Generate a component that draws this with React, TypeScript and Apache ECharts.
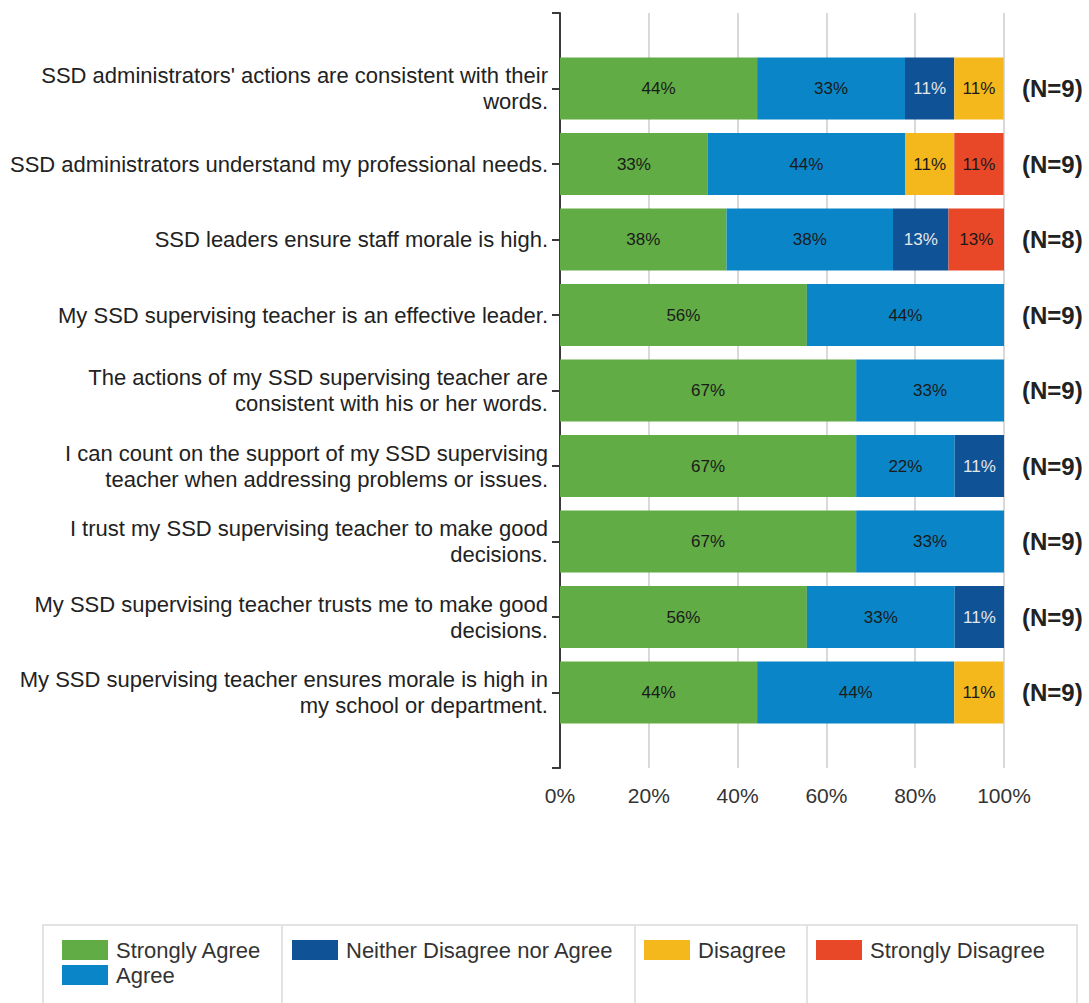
import React, { useEffect, useRef } from "react";
import * as echarts from "echarts";

const categories = [
  "SSD administrators' actions are consistent with their\nwords.",
  "SSD administrators understand my professional needs.",
  "SSD leaders ensure staff morale is high.",
  "My SSD supervising teacher is an effective leader.",
  "The actions of my SSD supervising teacher are\nconsistent with his or her words.",
  "I can count on the support of my SSD supervising\nteacher when addressing problems or issues.",
  "I trust my SSD supervising teacher to make good\ndecisions.",
  "My SSD supervising teacher trusts me to make good\ndecisions.",
  "My SSD supervising teacher ensures morale is high in\nmy school or department.",
];
const nLabels = ["(N=9)", "(N=9)", "(N=8)", "(N=9)", "(N=9)", "(N=9)", "(N=9)", "(N=9)", "(N=9)"];

const stronglyAgree = [44.4, 33.3, 37.5, 55.6, 66.7, 66.7, 66.7, 55.6, 44.4];
const agree = [33.3, 44.4, 37.5, 44.4, 33.3, 22.2, 33.3, 33.3, 44.4];
const neither = [11.1, 0, 12.5, 0, 0, 11.1, 0, 11.1, 0];
const disagree = [11.1, 11.1, 0, 0, 0, 0, 0, 0, 11.1];
const stronglyDisagree = [0, 11.1, 12.5, 0, 0, 0, 0, 0, 0];

const xTicks = [0, 20, 40, 60, 80, 100];

const seriesNames = ["Strongly Agree", "Agree", "Neither Disagree nor Agree", "Disagree", "Strongly Disagree"];
const seriesColors = ["#62ac45", "#0a85c8", "#0f5296", "#f4b71c", "#e84828"];
const labelColors = ["#1a1a1a", "#1a1a1a", "#e6e6e6", "#1a1a1a", "#1a1a1a"];

const FONT = "'Liberation Sans', Arial, sans-serif";

export default function App() {
  const ref = useRef<HTMLDivElement>(null);
  useEffect(() => {
    if (!ref.current) return;
    const chart = echarts.init(ref.current, undefined, { renderer: "svg" });
    const pad = (arr: any[]) => ["", ...arr, ""];
    const padData = (arr: number[]) => ["-", ...arr.map((v) => (v === 0 ? "-" : v)), "-"];
    const allData = [stronglyAgree, agree, neither, disagree, stronglyDisagree];

    const series = allData.map((d, i) => ({
      name: seriesNames[i],
      type: "bar",
      stack: "total",
      barWidth: 62,
      data: padData(d),
      itemStyle: { color: seriesColors[i] },
      label: {
        show: true,
        position: "inside",
        color: labelColors[i],
        fontSize: 17,
        fontFamily: FONT,
        formatter: (p: any) => `${Math.round(p.value)}%`,
      },
    }));

    const legendBase = {
      orient: "vertical",
      top: 939,
      padding: 0,
      itemWidth: 46,
      itemHeight: 20,
      itemGap: 3,
      icon: "rect",
      textStyle: { fontSize: 22, color: "#333", fontFamily: FONT, padding: [0, 0, 0, 3] },
    };

    chart.setOption({
      animation: false,
      textStyle: { fontFamily: FONT },
      grid: { left: 560, right: 85, top: 13, bottom: 235, containLabel: false },
      xAxis: {
        type: "value",
        min: 0,
        max: 100,
        interval: 20,
        axisLine: { show: false },
        axisTick: { show: false },
        axisLabel: {
          fontSize: 21,
          color: "#333",
          margin: 17,
          fontFamily: FONT,
          formatter: (v: number) => (xTicks.includes(v) ? `${v}%` : ""),
        },
        splitLine: { show: true, lineStyle: { color: "#d9d9d9", width: 2 } },
      },
      yAxis: [
        {
          type: "category",
          data: pad(categories),
          inverse: true,
          boundaryGap: false,
          axisLine: { show: true, lineStyle: { color: "#3a3a3a", width: 2 } },
          axisTick: { show: true, length: 8, lineStyle: { color: "#3a3a3a", width: 2 } },
          axisLabel: {
            fontSize: 22,
            color: "#222",
            margin: 12,
            lineHeight: 26,
            align: "right",
            fontFamily: FONT,
            interval: 0,
          },
          splitLine: { show: false },
        },
        {
          type: "category",
          data: pad(nLabels),
          inverse: true,
          boundaryGap: false,
          position: "right",
          axisLine: { show: false },
          axisTick: { show: false },
          axisLabel: {
            fontSize: 24,
            fontWeight: "bold",
            color: "#222",
            margin: 18,
            fontFamily: FONT,
            interval: 0,
          },
          splitLine: { show: false },
        },
      ],
      legend: [
        { ...legendBase, left: 62, data: ["Strongly Agree", "Agree"] },
        { ...legendBase, left: 292, data: ["Neither Disagree nor Agree"] },
        { ...legendBase, left: 644, data: ["Disagree"] },
        { ...legendBase, left: 816, data: ["Strongly Disagree"] },
      ],
      graphic: [
        { type: "rect", shape: { x: 43, y: 925, width: 1034, height: 100 }, style: { fill: "none", stroke: "#e3e3e3", lineWidth: 2 }, silent: true },
        { type: "line", shape: { x1: 282, y1: 925, x2: 282, y2: 1003 }, style: { stroke: "#e3e3e3", lineWidth: 2 }, silent: true },
        { type: "line", shape: { x1: 635, y1: 925, x2: 635, y2: 1003 }, style: { stroke: "#e3e3e3", lineWidth: 2 }, silent: true },
        { type: "line", shape: { x1: 807, y1: 925, x2: 807, y2: 1003 }, style: { stroke: "#e3e3e3", lineWidth: 2 }, silent: true },
      ],
      series,
    });
    return () => chart.dispose();
  }, []);
  return (
    <div
      ref={ref}
      style={{ position: "absolute", left: 0, top: 0, width: 1089, height: 1003, background: "#fff" }}
    />
  );
}
